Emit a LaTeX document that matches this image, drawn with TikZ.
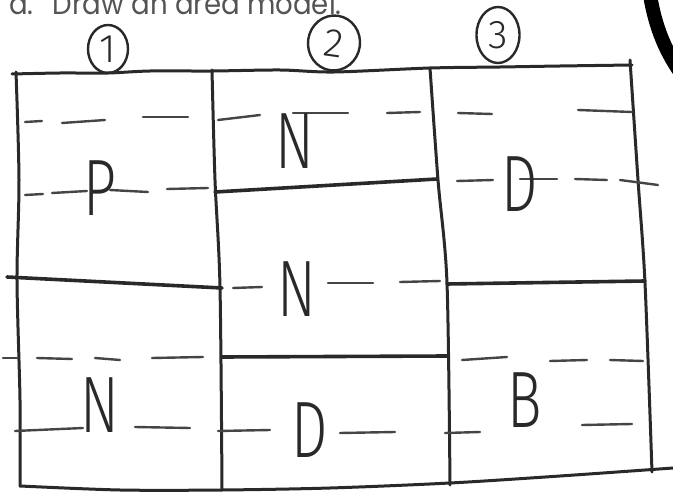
\documentclass[tikz,border=0pt]{standalone}
\usepackage{fontspec}
\newfontfamily\handfont{Fira Sans Light}
\newfontfamily\printfont{Poppins}
\definecolor{ink}{rgb}{0.16,0.16,0.16}
\definecolor{dashink}{rgb}{0.27,0.27,0.27}
\definecolor{printgray}{rgb}{0.33,0.33,0.33}
\usetikzlibrary{shapes.geometric}

\begin{document}
\begin{tikzpicture}[x=1pt,y=-1pt,
      edge/.style={ink,line width=3pt,line cap=round,line join=round},
      split/.style={ink,line width=3.6pt,line cap=round},
      guide/.style={dashink,line width=2.4pt,line cap=round},
      lett/.style={font=\handfont\fontsize{80}{80}\selectfont,text=ink,
                   inner sep=0pt,xscale=0.72},
      num/.style={ellipse,draw=ink,line width=2.4pt,inner sep=0pt,
                  font=\handfont\fontsize{40}{40}\selectfont,text=ink}
    ]
      \useasboundingbox (0,0) rectangle (673,495);
      \clip (0,0) rectangle (673,495);
      \node[anchor=base west,font=\printfont\fontsize{30}{30}\selectfont,
            text=printgray,inner sep=0pt,xscale=0.92] (title) at (9,15)
            {a.\hspace{21pt}Draw an area model.};
      \draw[black,line width=14pt] (650,-5) .. controls (655,25) and (665,55) .. (690,85);
      % circled parts
      \node[num,minimum width=40pt,minimum height=48pt] (c1) at (108,49) {1};
      \node[num,minimum width=52pt,minimum height=55pt,rotate=-8] (c2) at (334,43) {2};
      \node[num,minimum width=43pt,minimum height=56pt] (c3) at (498,35) {3};
      % outline and columns
      \draw[edge] plot[smooth] coordinates {(12,74) (60,73) (108,73) (150,71) (212,71)
        (280,70) (334,72) (430,68) (500,67) (560,66) (632,65)};
      \draw[edge] plot[smooth] coordinates {(16,72) (19,180) (17,280) (20,400) (20,486)};
      \draw[edge] plot[smooth] coordinates {(20,486) (120,490) (222,490) (330,488)
        (450,483) (560,476) (673,468)};
      \draw[edge] plot[smooth] coordinates {(212,70) (215,180) (220,287) (222,490)};
      \draw[edge] plot[smooth] coordinates {(430,68) (438,180) (447,283) (450,485)};
      \draw[edge] plot[smooth] coordinates {(630,60) (638,180) (645,283) (652,472)};
      % solid splits
      \draw[split] (7,277) -- (222,288);
      \draw[split] (215,192) -- (437,179);
      \draw[split] (222,357) -- (447,356);
      \draw[split] (447,284) -- (645,281);
      % dashed guides
      \foreach \xa/\ya/\xb/\yb in {25/122/42/121, 62/123/105/120, 143/117/188/117,
          218/120/260/115, 293/113/348/113, 387/113/420/112, 458/113/492/114,
          578/110/632/112,
          25/195/43/194, 52/193/87/191, 110/190/148/192, 167/189/208/188,
          457/181/493/180, 520/179/557/179, 575/179/607/180, 620/180/658/185,
          233/288/262/287, 328/283/373/283, 400/282/440/281,
          3/358/17/358, 37/358/72/359, 95/358/120/360, 152/358/203/357,
          462/360/507/357, 550/361/587/360, 610/360/643/361,
          15/431/83/428, 135/427/190/428, 218/431/270/430, 340/433/395/432,
          445/433/480/432, 582/425/632/424}
        \draw[guide] (\xa,\ya) -- (\xb,\yb);
      % letters
      \node[lett] (p1) at (100,188) {P};
      \node[lett] (n1) at (100,405) {N};
      \node[lett] (n2) at (295,141) {N};
      \node[lett] (n3) at (297,289) {N};
      \node[lett] (d2) at (310,430) {D};
      \node[lett] (d3) at (520,184) {D};
      \node[lett] (b3) at (525,400) {B};
    \end{tikzpicture}
\end{document}
